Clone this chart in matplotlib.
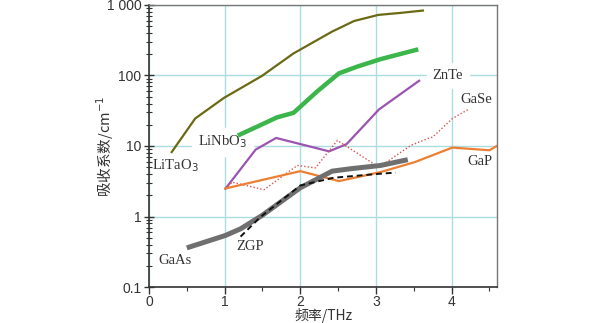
import matplotlib
matplotlib.use("Agg")
import matplotlib.pyplot as plt
from matplotlib.ticker import FixedLocator, NullFormatter, LogLocator

litao3_x = [0.30, 0.61, 0.99, 1.49, 1.91, 2.42, 2.71, 3.03, 3.33, 3.62]
litao3_y = [8.2, 24.5, 48, 98, 205, 418, 590, 720, 770, 830]

linbo3_x = [1.20, 1.47, 1.69, 1.91, 2.22, 2.51, 2.75, 3.06, 3.53]
linbo3_y = [14.5, 19.7, 25.4, 29.5, 59, 107, 133, 170, 230]

znte_x = [1.01, 1.41, 1.68, 2.38, 2.61, 3.04, 3.57]
znte_y = [2.48, 8.9, 13, 8.4, 10.6, 33, 84]

gase_x = [1.01, 1.10, 1.52, 1.96, 2.20, 2.49, 3.04, 3.46, 3.68, 3.75, 4.01, 4.22]
gase_y = [2.48, 3.07, 2.4, 5.3, 4.9, 12, 5.0, 10.2, 12.7, 13.4, 24.5, 33]

gap_x = [1.01, 2.00, 2.51, 3.06, 3.51, 4.01, 4.50, 4.61]
gap_y = [2.5, 4.4, 3.18, 4.27, 5.9, 9.5, 8.7, 10.2]

gaas_x = [0.50, 1.01, 1.21, 1.49, 2.00, 2.42, 2.67, 3.06, 3.42]
gaas_y = [0.36, 0.54, 0.67, 1.03, 2.56, 4.4, 4.77, 5.3, 6.4]

zgp_x = [1.21, 1.47, 2.00, 2.44, 3.06, 3.26]
zgp_y = [0.52, 0.98, 2.76, 3.55, 4.05, 4.2]

x_ticks = [0, 1, 2, 3, 4]
y_ticks = [0.1, 1, 10, 100, 1000]
y_ticklabels = ["0.1", "1", "10", "100", "1 000"]

plt.rcParams['font.family'] = ['Liberation Sans', 'Noto Sans CJK SC']

fig = plt.figure(figsize=(5.96, 3.23), dpi=100)
ax = fig.add_axes([0.25, 0.111, 0.584, 0.874])

ax.plot(litao3_x, litao3_y, color='#6b6a14', lw=1.6)
ax.plot(linbo3_x, linbo3_y, color='#3cb54a', lw=3.2)
ax.plot(znte_x, znte_y, color='#9b55b0', lw=1.6)
ax.plot(gase_x, gase_y, color='#d9534f', lw=1.0, ls=(0, (1, 1.5)))
ax.plot(gap_x, gap_y, color='#ec7f32', lw=1.6)
ax.plot(gaas_x, gaas_y, color='#6f6f6f', lw=3.6, solid_capstyle='butt')
ax.plot(zgp_x, zgp_y, color='#111111', lw=1.4, ls=(0, (3, 2)))

ax.set_yscale('log')
ax.set_xlim(0, 4.6)
ax.set_ylim(0.1, 1000)
ax.set_xticks(x_ticks)
ax.set_xticklabels([str(t) for t in x_ticks])
ax.xaxis.set_minor_locator(FixedLocator([0.5, 1.5, 2.5, 3.5, 4.5]))
ax.set_yticks(y_ticks)
ax.set_yticklabels(y_ticklabels)
ax.yaxis.set_minor_locator(LogLocator(base=10, subs=range(2, 10)))
ax.yaxis.set_minor_formatter(NullFormatter())

ax.grid(True, which='major', color='#aadde0', lw=1.0)
ax.set_axisbelow(True)

for s in ['top', 'right']:
    ax.spines[s].set_color('#777777')
    ax.spines[s].set_linewidth(1.0)
for s in ['left', 'bottom']:
    ax.spines[s].set_color('#333333')
    ax.spines[s].set_linewidth(1.2)

ax.tick_params(axis='y', which='major', direction='inout', length=7, width=1.0, color='#333333', labelsize=10, labelcolor='#333333', pad=2)
ax.tick_params(axis='y', which='minor', direction='inout', length=4, width=0.8, color='#333333')
ax.tick_params(axis='x', which='major', direction='out', length=5, width=1.0, color='#333333', labelsize=10, labelcolor='#333333', pad=1)
ax.tick_params(axis='x', which='minor', direction='out', length=3, width=0.8, color='#333333')

ax.set_xlabel('频率/THz', fontsize=10, color='#333333', labelpad=-1,
              family=['Noto Sans CJK SC', 'Liberation Serif'])
ax.set_ylabel('吸收系数/cm$^{-1}$', fontsize=10.5, color='#333333', labelpad=-7,
              family=['Noto Sans CJK SC', 'Liberation Serif'])

lab = dict(fontsize=10.5, color='#333333', family='Liberation Serif',
           ha='center', va='center')
ax.text(0.35, 5.3, 'LiTaO$_3$', **lab)
ax.text(0.97, 11.5, 'LiNbO$_3$', backgroundcolor='white', zorder=1.5, **lab)
ax.text(3.95, 100, 'ZnTe', backgroundcolor='white', zorder=1.5, **lab)
ax.text(4.32, 46, 'GaSe', **lab)
ax.text(4.38, 6.1, 'GaP', **lab)
ax.text(0.35, 0.24, 'GaAs', **lab)
ax.text(1.34, 0.38, 'ZGP', **lab)

fig.savefig('out.png', dpi=100)
